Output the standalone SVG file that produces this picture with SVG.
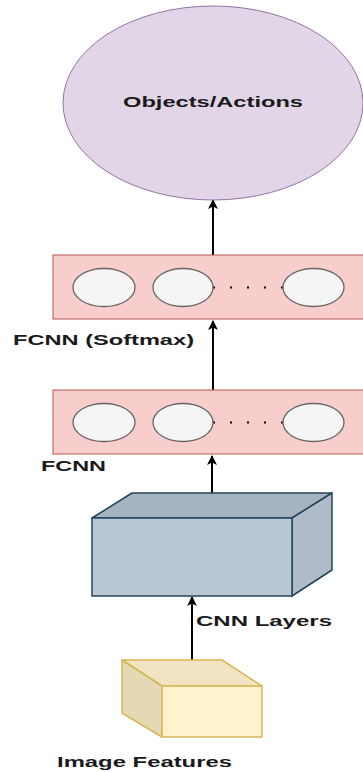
<svg xmlns="http://www.w3.org/2000/svg" width="363" height="772" viewBox="0 0 363 772">
<style>
.lbl{font-family:"Liberation Sans",Arial,sans-serif;font-weight:bold;font-size:15px;fill:#1a1a1a}
.layer{fill:#f8cecc;stroke:#b85450;stroke-width:1}
.neuron{fill:#f5f5f5;stroke:#666666;stroke-width:1.3}
.dots{stroke:#000;stroke-width:2;stroke-dasharray:2 15}
.conn{stroke:#000;stroke-width:2;fill:none}
</style>
<defs>
<marker id="ah" markerWidth="10" markerHeight="10" refX="9" refY="5" orient="auto" markerUnits="userSpaceOnUse" viewBox="0 0 10 10">
<path d="M0,0 L10,5 L0,10 L2.5,5 Z" fill="#000"/>
</marker>
</defs>
<rect width="363" height="772" fill="#fff"/>
<g id="connectors">
<line class="conn" x1="213" y1="255" x2="213" y2="200" marker-end="url(#ah)"/>
<line class="conn" x1="213" y1="390" x2="213" y2="321" marker-end="url(#ah)"/>
<line class="conn" x1="212" y1="493" x2="212" y2="456" marker-end="url(#ah)"/>
<line class="conn" x1="192" y1="660" x2="192" y2="597" marker-end="url(#ah)"/>
</g>
<g id="objects-actions">
<ellipse cx="213" cy="103" rx="150" ry="97" fill="#e1d5e7" stroke="#9673a6" stroke-width="1"/>
<text class="lbl" x="213" y="107" text-anchor="middle" textLength="180" lengthAdjust="spacingAndGlyphs">Objects/Actions</text>
</g>
<g id="fcnn-softmax">
<rect class="layer" x="53" y="255" width="320" height="64"/>
<line class="dots" x1="213" y1="287.5" x2="283" y2="287.5"/>
<ellipse class="neuron" cx="104" cy="287.5" rx="31" ry="19"/>
<ellipse class="neuron" cx="183" cy="287.5" rx="30" ry="19"/>
<ellipse class="neuron" cx="313.5" cy="287.5" rx="30.5" ry="19"/>
<text class="lbl" x="13" y="345" textLength="181" lengthAdjust="spacingAndGlyphs">FCNN (Softmax)</text>
</g>
<g id="fcnn">
<rect class="layer" x="53" y="390" width="320" height="64"/>
<line class="dots" x1="213" y1="422.5" x2="283" y2="422.5"/>
<ellipse class="neuron" cx="104" cy="422.5" rx="31" ry="19"/>
<ellipse class="neuron" cx="183" cy="422.5" rx="30" ry="19"/>
<ellipse class="neuron" cx="313.5" cy="422.5" rx="30.5" ry="19"/>
<text class="lbl" x="41" y="470.5" textLength="65" lengthAdjust="spacingAndGlyphs">FCNN</text>
</g>
<g id="cnn-layers" stroke="#23445d" stroke-width="1.5" stroke-linejoin="round">
<path d="M92,518 L132,493 L332,493 L292,518 Z" fill="#a6b4bf"/>
<path d="M292,518 L332,493 L332,570 L292,596 Z" fill="#afbcc7"/>
<rect x="92" y="518" width="200" height="78" fill="#bac8d3"/>
<text class="lbl" x="196" y="626" textLength="136" lengthAdjust="spacingAndGlyphs" stroke="none">CNN Layers</text>
</g>
<g id="image-features" stroke="#d6b656" stroke-width="1.5" stroke-linejoin="round">
<path d="M122,660 L222,660 L262,686 L162,686 Z" fill="#f2e4c3"/>
<path d="M122,660 L162,686 L162,737 L122,713 Z" fill="#e4d8b5"/>
<rect x="162" y="686" width="100" height="51" fill="#fff2cc"/>
<text class="lbl" x="57" y="767" textLength="175" lengthAdjust="spacingAndGlyphs" stroke="none">Image Features</text>
</g>
</svg>
